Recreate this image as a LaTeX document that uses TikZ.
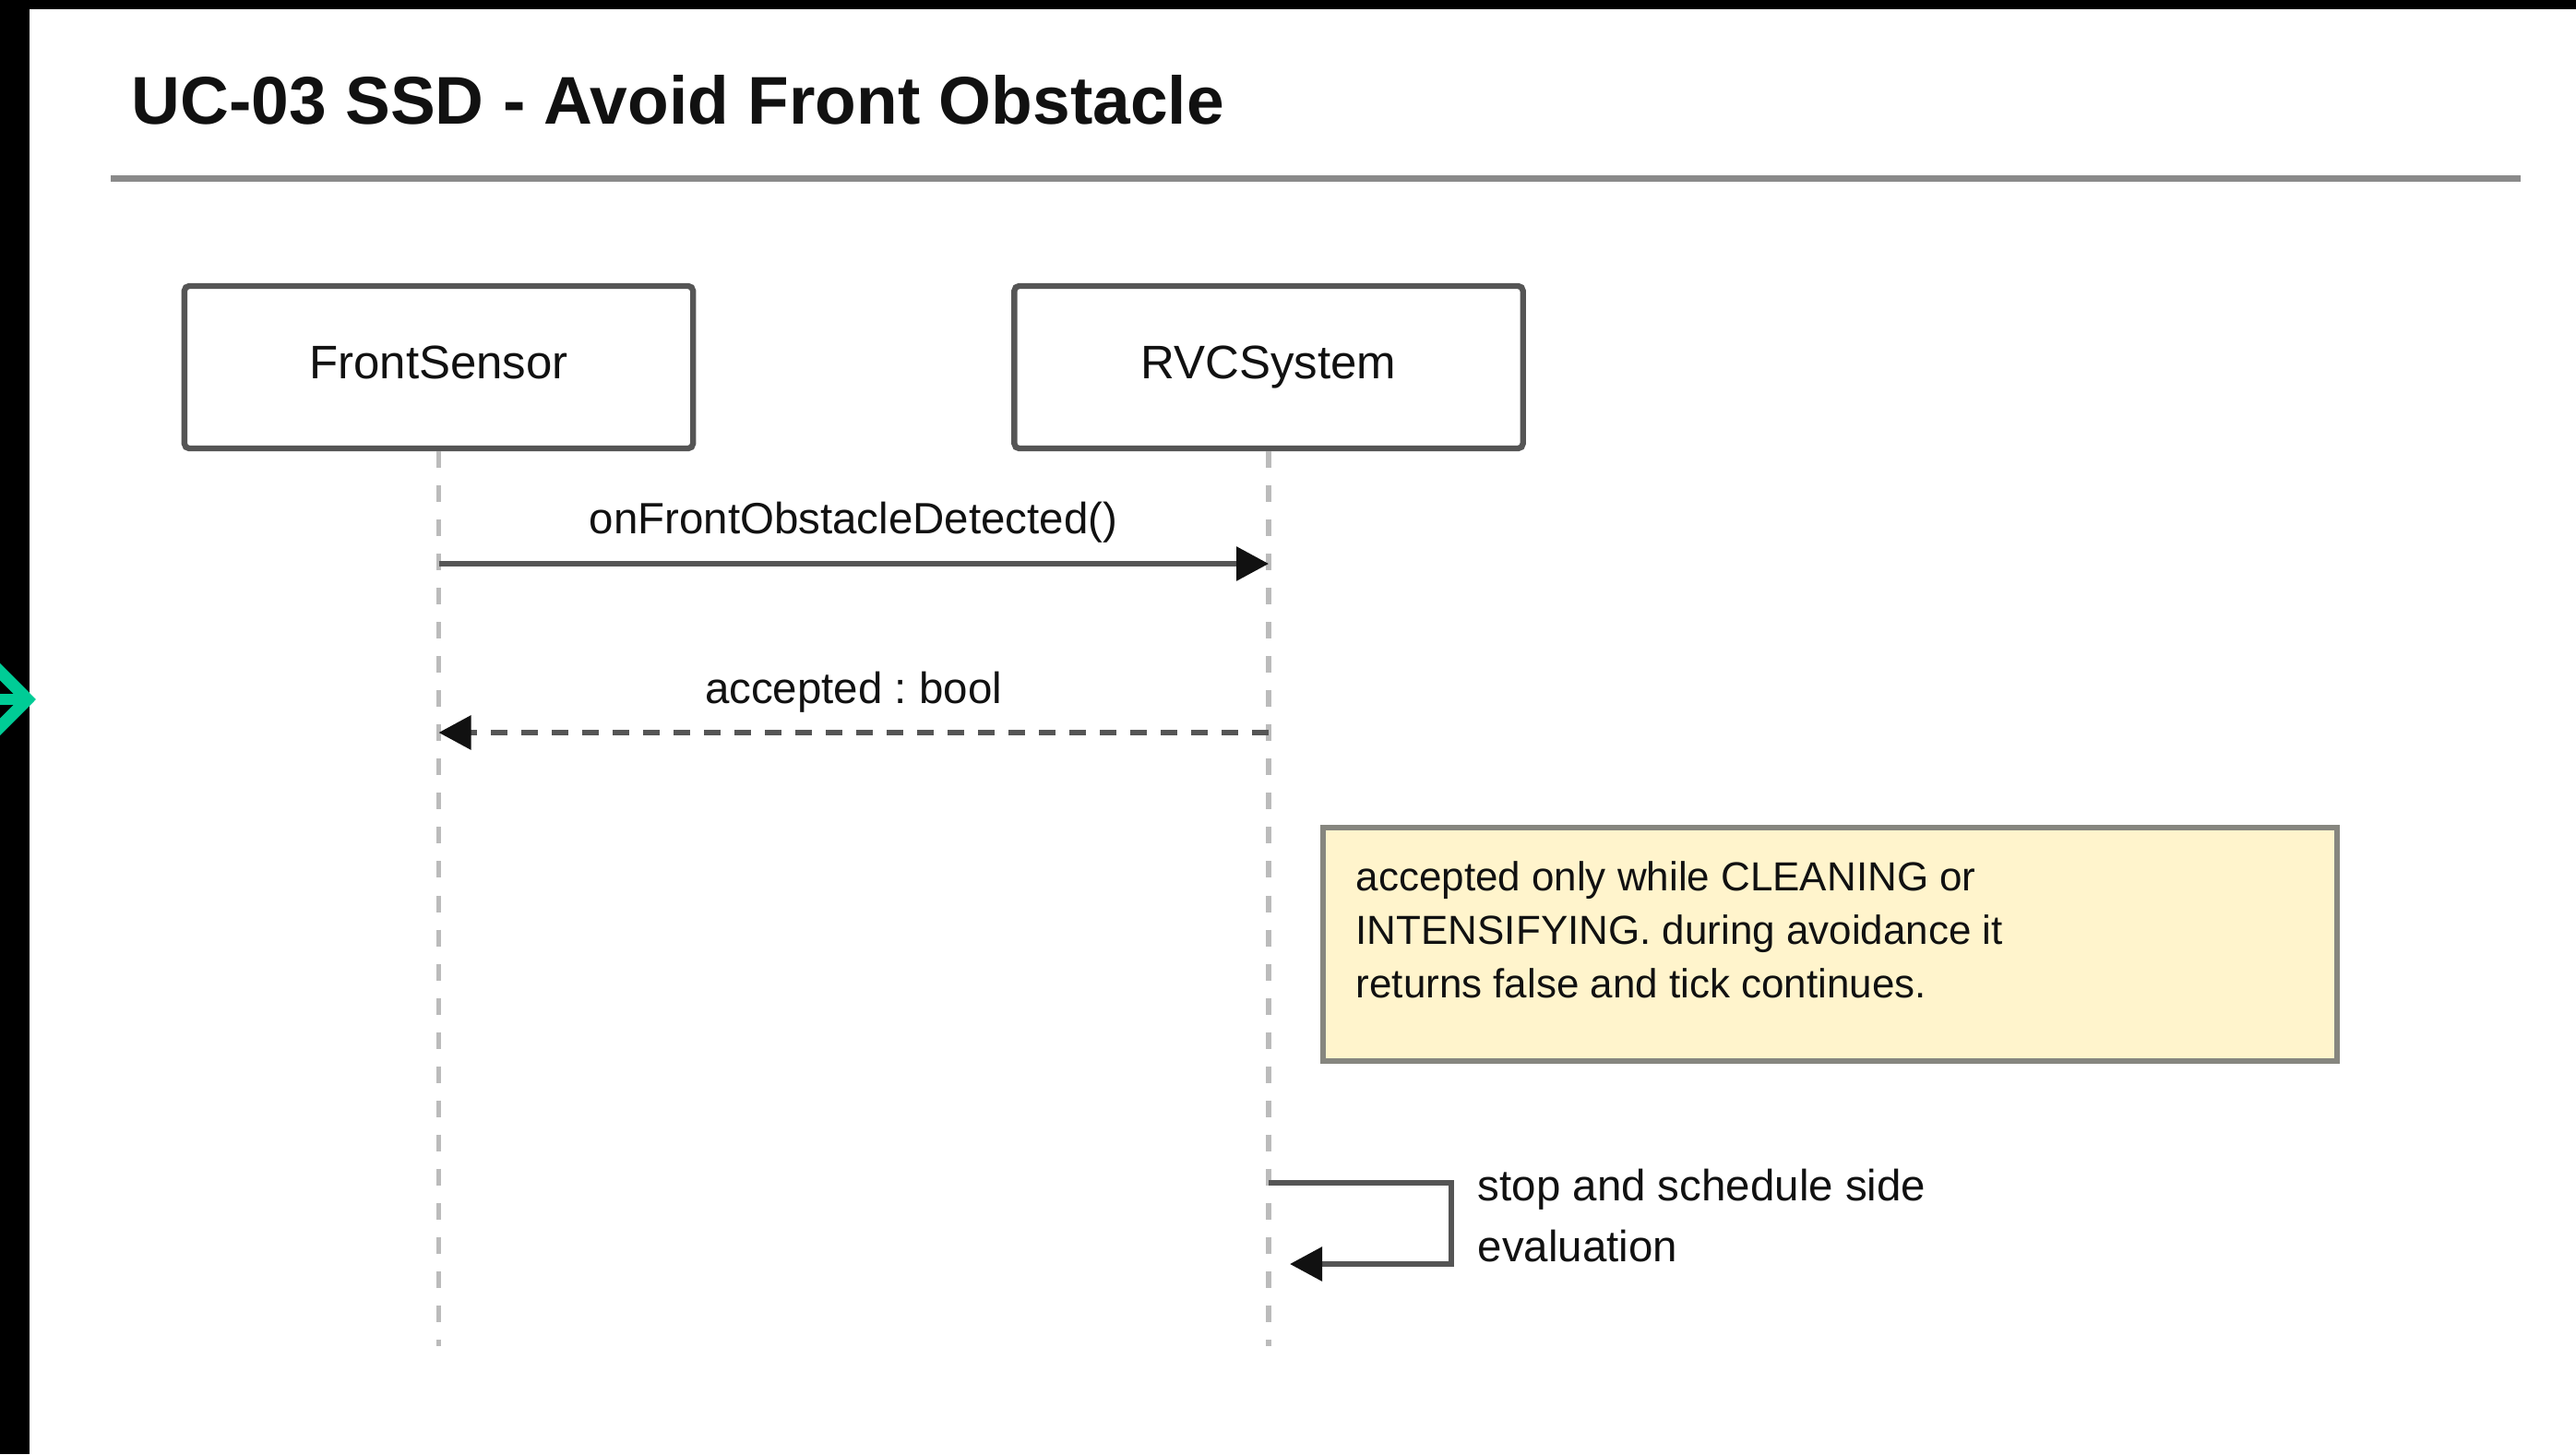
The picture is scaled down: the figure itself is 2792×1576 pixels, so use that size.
\documentclass[tikz,border=0pt]{standalone}
\usepackage{fontspec}
\setmainfont{Liberation Sans}
\usetikzlibrary{arrows.meta}
\frenchspacing

\definecolor{ink}{HTML}{111111}
\definecolor{boxline}{HTML}{555555}
\definecolor{arrowgray}{HTML}{555555}
\definecolor{lifegray}{HTML}{BBBBBB}
\definecolor{rulegray}{HTML}{8A8A8A}
\definecolor{notefill}{HTML}{FFF4CC}
\definecolor{noteline}{HTML}{86867F}
\definecolor{accent}{HTML}{00CC96}

\begin{document}
\begin{tikzpicture}[x=0.01cm, y=-0.01cm,
  participant/.style={draw=boxline, line width=1.8pt, rounded corners=1.5pt,
    fill=white, minimum width=5.51cm, minimum height=1.76cm, inner sep=0pt,
    font=\fontsize{14.5}{17}\selectfont, text=ink,
    text height=0.37cm, text depth=0.13cm},
  lifeline/.style={draw=lifegray, line width=1.5pt, dash pattern=on 0.18cm off 0.19cm},
  msg/.style={draw=arrowgray, line width=1.7pt,
    -{Triangle[length=0.35cm, width=0.36cm, color=ink]}},
  reply/.style={msg, dash pattern=on 0.18cm off 0.15cm},
  msglabel/.style={font=\fontsize{13.5}{16}\selectfont, text=ink, inner sep=0pt, anchor=base},
  notebox/.style={draw=noteline, line width=1.7pt, fill=notefill,
    minimum width=10.99cm, minimum height=2.53cm, inner sep=0pt},
  notetext/.style={font=\fontsize{12.5}{16.5}\selectfont, text=ink, inner sep=0pt,
    align=left, anchor=north west},
  selftext/.style={font=\fontsize{13.5}{18.8}\selectfont, text=ink, inner sep=0pt,
    align=left, anchor=north west},
]

% page and frame
\clip (0,0) rectangle (2792,1576);
\fill[white] (0,0) rectangle (2792,1576);
\fill[black] (0,0) rectangle (32,1576);
\fill[black] (0,0) rectangle (2792,10);

% side marker
\draw[accent, line width=3.7pt, line join=miter] (-12,716) -- (29.8,758) -- (-12,800);
\draw[accent, line width=3.4pt] (-6,758) -- (24,758);

% heading
\node[font=\fontsize{20.8}{24}\selectfont\bfseries, text=ink, inner sep=0pt, anchor=base west]
  (title) at (142,135) {UC-03 SSD - Avoid Front Obstacle};
\coordinate (ruleL) at (120,193.5);
\coordinate (ruleR) at (2732,193.5);
\draw[rulegray, line width=2pt] (ruleL) -- (ruleR);

% participants
\node[participant] (fs) at (475.5,398) {FrontSensor};
\node[participant] (rv) at (1375,398) {RVCSystem};

% lifelines
\coordinate (fsEnd) at (475.5,1459);
\coordinate (rvEnd) at (1375,1459);
\draw[lifeline] (fs.south) -- (fsEnd);
\draw[lifeline] (rv.south) -- (rvEnd);

% message points on the lifelines
\coordinate (fs1) at (475.5,611);
\coordinate (rv1) at (1375,611);
\coordinate (rv2) at (1375,794);
\coordinate (fs2) at (475.5,794);
\coordinate (rvSelfA) at (1375,1282);
\coordinate (rvSelfB) at (1398,1370);

% call
\draw[msg] (fs1) -- (rv1);
\node[msglabel] (m1) at (925,578) {onFrontObstacleDetected()};

% reply
\draw[reply] (rv2) -- (fs2);
\node[msglabel] (m2) at (925,762) {accepted : bool};

% note
\node[notebox] (note) at (1983.5,1023.5) {};
\node[notetext] (notetxt) at (1469,933) {accepted only while CLEANING or\\INTENSIFYING. during avoidance it\\returns false and tick continues.};

% self call
\draw[msg] (rvSelfA) -- ++(198,0) |- (rvSelfB);
\node[selftext] (selflbl) at (1601,1266) {stop and schedule side\\evaluation};

\end{tikzpicture}
\end{document}
